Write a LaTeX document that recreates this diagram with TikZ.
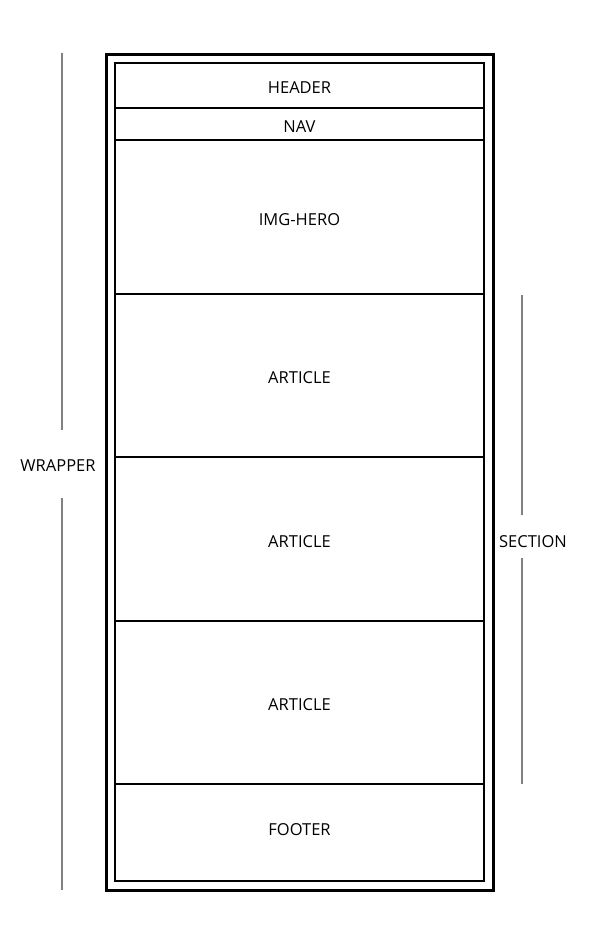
\documentclass[tikz,border=0pt]{standalone}
\usepackage{fontspec}
\setmainfont{Open Sans}
\usetikzlibrary{positioning,fit}

\begin{document}
\begin{tikzpicture}[x=1pt,y=-1pt,
	block/.style={draw,line width=2.8pt,minimum width=369pt,outer sep=0pt,inner sep=0pt,text height=16pt,text depth=0pt,font=\fontsize{16.5}{19}\selectfont},
	wrapbox/.style={draw,line width=3pt,inner sep=9pt},
	guide/.style={draw=gray,line width=1.6pt},
	tag/.style={font=\fontsize{16.5}{19}\selectfont}]
	\useasboundingbox (0,0) rectangle (596,937);
	\node[block,minimum height=45pt] (header) at (299.5,85.5) {HEADER};
	\node[block,minimum height=32pt,below=0pt of header] (nav) {NAV};
	\node[block,minimum height=154pt,below=0pt of nav] (hero) {IMG-HERO};
	\node[block,minimum height=163pt,below=0pt of hero] (article1) {ARTICLE};
	\node[block,minimum height=164pt,below=0pt of article1] (article2) {ARTICLE};
	\node[block,minimum height=163pt,below=0pt of article2] (article3) {ARTICLE};
	\node[block,minimum height=97pt,text height=6pt,below=0pt of article3] (footer) {FOOTER};
	\node[wrapbox,fit=(header)(footer)] (wrapper) {};
	
	\node[tag] (wraplabel) at (58,466) {WRAPPER};
	\coordinate (wraptop) at (62,53);
	\coordinate (wrapgap1) at (62,430);
	\coordinate (wrapgap2) at (62,498);
	\coordinate (wrapbot) at (62,890);
	\draw[guide] (wraptop) -- (wrapgap1);
	\draw[guide] (wrapgap2) -- (wrapbot);
	
	\node[tag] (seclabel) at (533,542) {SECTION};
	\coordinate (sectop) at (522,295);
	\coordinate (secgap1) at (522,515);
	\coordinate (secgap2) at (522,558);
	\coordinate (secbot) at (522,784);
	\draw[guide] (sectop) -- (secgap1);
	\draw[guide] (secgap2) -- (secbot);
\end{tikzpicture}
\end{document}
